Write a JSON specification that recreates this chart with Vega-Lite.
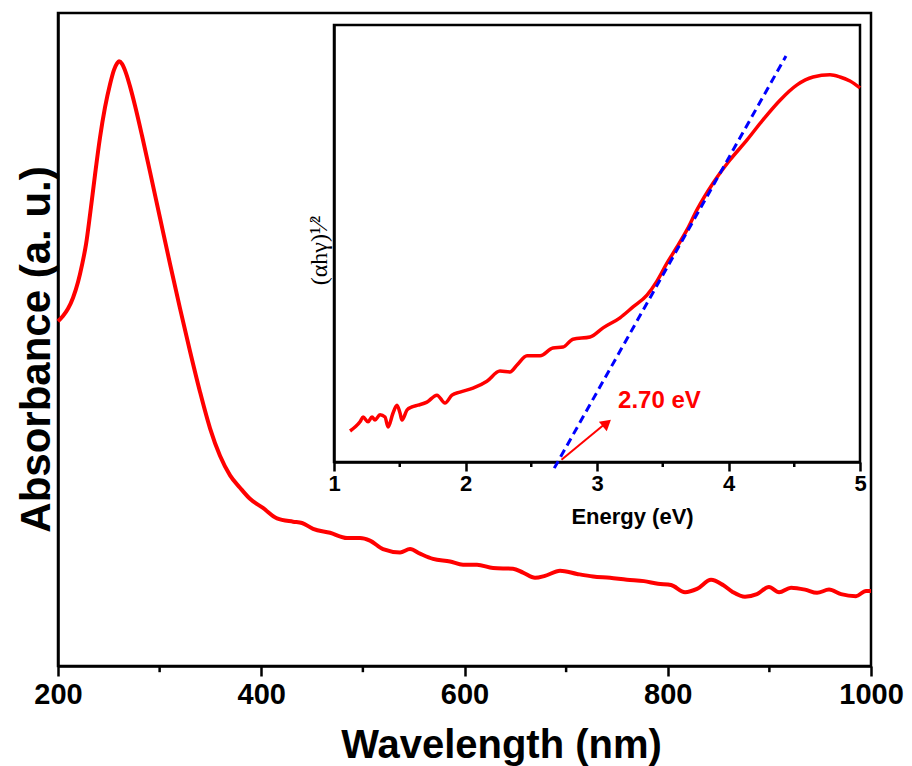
{
  "$schema": "https://vega.github.io/schema/vega-lite/v6.json",
  "width": 813,
  "height": 653,
  "autosize": {"type": "none"},
  "padding": {"left": 58, "top": 13, "right": 41, "bottom": 100},
  "background": "white",
  "config": {
    "view": {"stroke": "black", "strokeWidth": 2.5},
    "axis": {"grid": false, "domainColor": "black", "domainWidth": 2.5, "tickColor": "black", "tickWidth": 2.5, "labelColor": "black", "titleColor": "black", "labelFont": "Liberation Sans", "titleFont": "Liberation Sans", "labelFontWeight": "bold", "titleFontWeight": "bold", "labelOverlap": false, "labelFlush": false, "labelBound": false}
  },
  "datasets": {
    "uv": [
      {"wl": 200.0, "a": 0.528}, {"wl": 204.9, "a": 0.536}, {"wl": 209.8, "a": 0.547}, {"wl": 214.8, "a": 0.564},
      {"wl": 219.7, "a": 0.588}, {"wl": 223.6, "a": 0.614}, {"wl": 227.6, "a": 0.646}, {"wl": 231.5, "a": 0.691},
      {"wl": 236.4, "a": 0.752}, {"wl": 241.3, "a": 0.809}, {"wl": 246.2, "a": 0.855}, {"wl": 251.2, "a": 0.891},
      {"wl": 255.1, "a": 0.913}, {"wl": 258.1, "a": 0.923}, {"wl": 260.0, "a": 0.926}, {"wl": 263.0, "a": 0.922},
      {"wl": 266.9, "a": 0.908}, {"wl": 270.8, "a": 0.888}, {"wl": 275.8, "a": 0.858}, {"wl": 282.7, "a": 0.812},
      {"wl": 290.5, "a": 0.757}, {"wl": 300.4, "a": 0.686}, {"wl": 310.2, "a": 0.616}, {"wl": 320.0, "a": 0.548},
      {"wl": 329.9, "a": 0.482}, {"wl": 339.7, "a": 0.420}, {"wl": 349.6, "a": 0.364}, {"wl": 359.4, "a": 0.322},
      {"wl": 369.3, "a": 0.292}, {"wl": 379.1, "a": 0.273}, {"wl": 388.9, "a": 0.256}, {"wl": 401.7, "a": 0.242},
      {"wl": 415.5, "a": 0.226}, {"wl": 431.3, "a": 0.221}, {"wl": 440.1, "a": 0.219}, {"wl": 451.0, "a": 0.210},
      {"wl": 467.7, "a": 0.204}, {"wl": 484.4, "a": 0.196}, {"wl": 497.2, "a": 0.196}, {"wl": 507.0, "a": 0.192},
      {"wl": 519.8, "a": 0.179}, {"wl": 536.6, "a": 0.174}, {"wl": 546.4, "a": 0.179}, {"wl": 556.2, "a": 0.172},
      {"wl": 569.0, "a": 0.164}, {"wl": 585.8, "a": 0.160}, {"wl": 598.6, "a": 0.155}, {"wl": 612.3, "a": 0.155},
      {"wl": 628.1, "a": 0.150}, {"wl": 647.7, "a": 0.149}, {"wl": 657.6, "a": 0.143}, {"wl": 669.4, "a": 0.135},
      {"wl": 679.2, "a": 0.138}, {"wl": 694.0, "a": 0.146}, {"wl": 710.7, "a": 0.141}, {"wl": 726.5, "a": 0.137},
      {"wl": 743.2, "a": 0.135}, {"wl": 759.9, "a": 0.132}, {"wl": 776.6, "a": 0.130}, {"wl": 790.4, "a": 0.126},
      {"wl": 803.2, "a": 0.124}, {"wl": 817.0, "a": 0.113}, {"wl": 828.8, "a": 0.118}, {"wl": 842.6, "a": 0.132},
      {"wl": 854.4, "a": 0.124}, {"wl": 864.2, "a": 0.113}, {"wl": 876.0, "a": 0.106}, {"wl": 887.8, "a": 0.110},
      {"wl": 899.6, "a": 0.121}, {"wl": 909.5, "a": 0.113}, {"wl": 921.3, "a": 0.120}, {"wl": 935.1, "a": 0.117},
      {"wl": 946.9, "a": 0.112}, {"wl": 958.7, "a": 0.117}, {"wl": 970.5, "a": 0.110}, {"wl": 985.2, "a": 0.107},
      {"wl": 995.1, "a": 0.115}, {"wl": 1000.0, "a": 0.115}
    ],
    "minorMain": [{"wl": 300}, {"wl": 500}, {"wl": 700}, {"wl": 900}],
    "tauc": [
      {"e": 1.122, "v": 0.071}, {"e": 1.160, "v": 0.080}, {"e": 1.198, "v": 0.092}, {"e": 1.221, "v": 0.103},
      {"e": 1.259, "v": 0.092}, {"e": 1.289, "v": 0.103}, {"e": 1.312, "v": 0.096}, {"e": 1.350, "v": 0.108},
      {"e": 1.388, "v": 0.103}, {"e": 1.411, "v": 0.080}, {"e": 1.449, "v": 0.112}, {"e": 1.479, "v": 0.130},
      {"e": 1.502, "v": 0.112}, {"e": 1.517, "v": 0.096}, {"e": 1.555, "v": 0.119}, {"e": 1.593, "v": 0.126},
      {"e": 1.639, "v": 0.130}, {"e": 1.707, "v": 0.137}, {"e": 1.783, "v": 0.153}, {"e": 1.844, "v": 0.135},
      {"e": 1.897, "v": 0.153}, {"e": 1.958, "v": 0.160}, {"e": 2.057, "v": 0.169}, {"e": 2.163, "v": 0.185},
      {"e": 2.262, "v": 0.208}, {"e": 2.338, "v": 0.206}, {"e": 2.392, "v": 0.222}, {"e": 2.468, "v": 0.243},
      {"e": 2.567, "v": 0.243}, {"e": 2.665, "v": 0.261}, {"e": 2.741, "v": 0.263}, {"e": 2.817, "v": 0.281},
      {"e": 2.947, "v": 0.286}, {"e": 3.046, "v": 0.307}, {"e": 3.175, "v": 0.330}, {"e": 3.274, "v": 0.355},
      {"e": 3.380, "v": 0.382}, {"e": 3.456, "v": 0.414}, {"e": 3.532, "v": 0.455}, {"e": 3.608, "v": 0.492},
      {"e": 3.684, "v": 0.531}, {"e": 3.760, "v": 0.577}, {"e": 3.882, "v": 0.638}, {"e": 4.011, "v": 0.691},
      {"e": 4.141, "v": 0.737}, {"e": 4.262, "v": 0.783}, {"e": 4.392, "v": 0.828}, {"e": 4.521, "v": 0.863},
      {"e": 4.643, "v": 0.881}, {"e": 4.772, "v": 0.886}, {"e": 4.848, "v": 0.881}, {"e": 4.924, "v": 0.872},
      {"e": 5.000, "v": 0.856}
    ],
    "minorInset": [{"e": 1.5}, {"e": 2.5}, {"e": 3.5}, {"e": 4.5}],
    "fit": [{"e": 2.675, "v": -0.014}, {"e": 4.437, "v": 0.929}],
    "arrow": [{"e": 2.73, "v": 0.005, "e2": 3.08, "v2": 0.092}],
    "head": [{"e": 3.075, "v": 0.089}],
    "label": [{"e": 3.16, "v": 0.14, "t": "2.70 eV"}],
    "frame": [{"e": 1, "v": 0, "e2": 5, "v2": 1}]
  },
  "layer": [
    {
      "layer": [
        {
          "data": {"name": "uv"},
          "mark": {"type": "line", "color": "#ff0000", "strokeWidth": 4, "interpolate": "monotone"},
          "encoding": {
            "x": {"field": "wl", "type": "quantitative", "scale": {"domain": [200, 1000], "nice": false, "zero": false},
              "axis": {"orient": "bottom", "values": [200, 400, 600, 800, 1000], "format": "d", "tickSize": 10,
                "labelFontSize": 29, "labelPadding": 4, "title": "Wavelength (nm)", "titleFontSize": 40,
                "titleX": 443, "titleY": 91, "titleBaseline": "alphabetic", "titleAlign": "center"}},
            "y": {"field": "a", "type": "quantitative", "scale": {"domain": [0, 1], "nice": false, "zero": false},
              "axis": {"orient": "left", "ticks": false, "labels": false, "title": "Absorbance (a. u.)", "titleFontSize": 42,
                "titleX": -9, "titleY": 336, "titleBaseline": "alphabetic", "titleAlign": "center", "titleAngle": 270}}
          }
        },
        {
          "data": {"name": "minorMain"},
          "mark": {"type": "rule", "color": "black", "strokeWidth": 2.5},
          "encoding": {
            "x": {"field": "wl", "type": "quantitative"},
            "y": {"datum": 0},
            "y2": {"datum": -0.0095}
          }
        }
      ]
    },
    {
      "layer": [
        {
          "data": {"name": "frame"},
          "mark": {"type": "rect", "fillOpacity": 0, "fill": "white", "stroke": "black", "strokeWidth": 2.5},
          "encoding": {
            "x": {"field": "e", "type": "quantitative", "scale": {"domain": [1, 5], "range": [276, 802], "nice": false, "zero": false},
              "axis": {"orient": "bottom", "offset": -204, "values": [1, 2, 3, 4, 5], "format": "d", "tickSize": 9,
                "labelFontSize": 22, "labelPadding": 2, "title": "Energy (eV)", "titleFontSize": 22,
                "titleX": 574, "titleY": 61, "titleBaseline": "alphabetic", "titleAlign": "center"}},
            "x2": {"field": "e2"},
            "y": {"field": "v", "type": "quantitative", "scale": {"domain": [0, 1], "range": [449, 12], "nice": false, "zero": false},
              "axis": {"orient": "left", "offset": -276, "ticks": false, "labels": false, "title": "(αhγ)¹⁄²",
                "titleFont": "Liberation Serif", "titleFontWeight": "normal", "titleFontSize": 24,
                "titleX": -8, "titleY": 237, "titleBaseline": "alphabetic", "titleAlign": "center", "titleAngle": 270}},
            "y2": {"field": "v2"}
          }
        },
        {
          "data": {"name": "minorInset"},
          "mark": {"type": "rule", "color": "black", "strokeWidth": 2.5},
          "encoding": {
            "x": {"field": "e", "type": "quantitative"},
            "y": {"datum": 0},
            "y2": {"datum": -0.0115}
          }
        },
        {
          "data": {"name": "tauc"},
          "mark": {"type": "line", "color": "#ff0000", "strokeWidth": 3.5, "interpolate": "monotone"},
          "encoding": {
            "x": {"field": "e", "type": "quantitative"},
            "y": {"field": "v", "type": "quantitative"}
          }
        },
        {
          "data": {"name": "fit"},
          "mark": {"type": "line", "color": "#0000ff", "strokeWidth": 3, "strokeDash": [8, 5]},
          "encoding": {
            "x": {"field": "e", "type": "quantitative"},
            "y": {"field": "v", "type": "quantitative"}
          }
        },
        {
          "data": {"name": "arrow"},
          "mark": {"type": "rule", "color": "#ff0000", "strokeWidth": 2},
          "encoding": {
            "x": {"field": "e", "type": "quantitative"},
            "y": {"field": "v", "type": "quantitative"},
            "x2": {"field": "e2"},
            "y2": {"field": "v2"}
          }
        },
        {
          "data": {"name": "head"},
          "mark": {"type": "point", "shape": "triangle-right", "filled": true, "color": "#ff0000", "size": 150, "angle": 320, "opacity": 1},
          "encoding": {
            "x": {"field": "e", "type": "quantitative"},
            "y": {"field": "v", "type": "quantitative"}
          }
        },
        {
          "data": {"name": "label"},
          "mark": {"type": "text", "color": "#ff0000", "font": "Liberation Sans", "fontWeight": "bold", "fontSize": 24, "align": "left", "baseline": "middle"},
          "encoding": {
            "x": {"field": "e", "type": "quantitative"},
            "y": {"field": "v", "type": "quantitative"},
            "text": {"field": "t"}
          }
        }
      ]
    }
  ],
  "resolve": {"scale": {"x": "independent", "y": "independent"}, "axis": {"x": "independent", "y": "independent"}}
}
